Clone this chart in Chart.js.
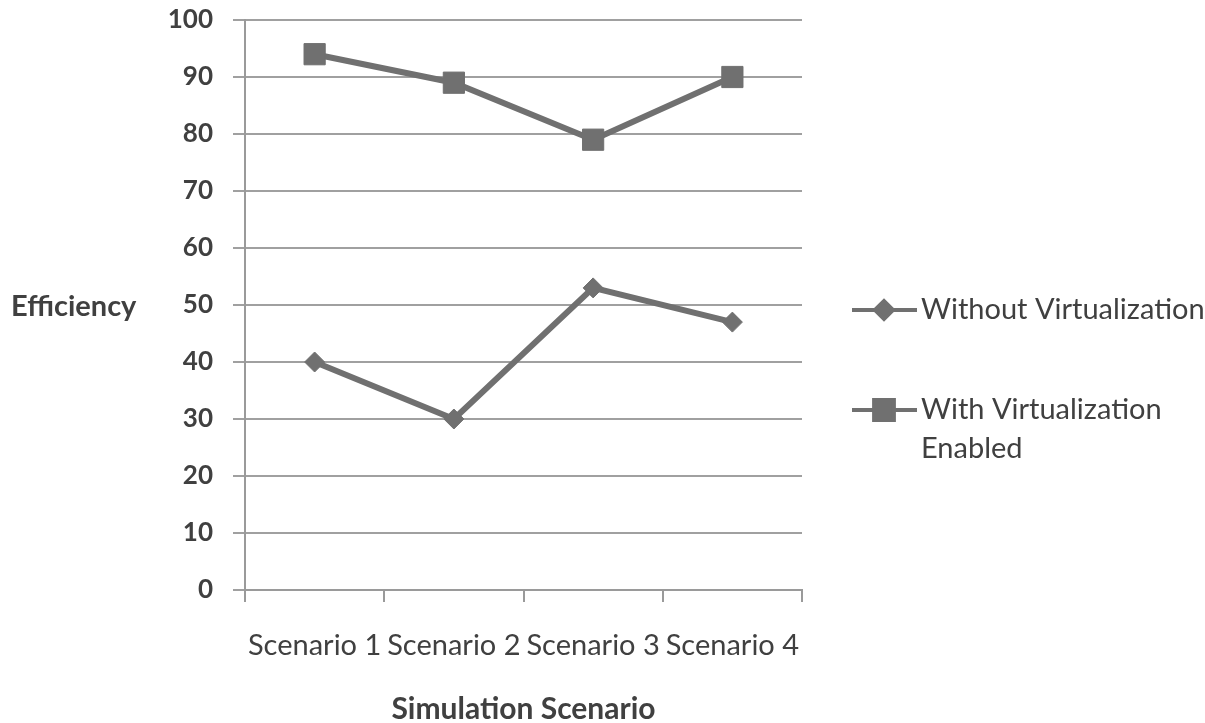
<!DOCTYPE html>
<html>
<head>
<meta charset="utf-8">
<script src="https://cdn.jsdelivr.net/npm/chart.js@4.4.1/dist/chart.umd.min.js"></script>
<style>
  html, body { margin: 0; padding: 0; background: #fff; }
  #wrap { width: 1205px; height: 723px; position: relative; }
</style>
</head>
<body>
<div id="wrap"><canvas id="chart"></canvas></div>
<script>
const categories = ["Scenario 1", "Scenario 2", "Scenario 3", "Scenario 4"];
const withoutVirt = [40, 30, 53, 47];
const withVirt = [94, 89, 79, 90];
const seriesNames = ["Without Virtualization", ["With Virtualization", "Enabled"]];
const yTicks = [0, 10, 20, 30, 40, 50, 60, 70, 80, 90, 100];

const grey = "#707070";
const textColor = "#404040";
const fontFamily = "Lato, 'Open Sans', sans-serif";

// y title drawn horizontally, plus a legend with the wrapped second label
const extras = {
  id: "extras",
  afterDraw(chart) {
    const ctx = chart.ctx;
    ctx.save();
    ctx.fillStyle = textColor;
    ctx.font = "bold 29px " + fontFamily;
    ctx.textAlign = "left";
    ctx.textBaseline = "middle";
    ctx.fillText("Efficiency", 11, 307);

    const items = [
      { y: 310, style: "rectRot", radius: 9, lines: [seriesNames[0]] },
      { y: 410, style: "rect", radius: 14, lines: seriesNames[1] },
    ];
    items.forEach((it) => {
      ctx.strokeStyle = grey;
      ctx.lineWidth = 4;
      ctx.beginPath();
      ctx.moveTo(852, it.y);
      ctx.lineTo(917, it.y);
      ctx.stroke();
      ctx.fillStyle = grey;
      Chart.helpers.drawPoint(ctx, { pointStyle: it.style, radius: it.radius, borderWidth: 1 }, 884, it.y);
      ctx.fillStyle = textColor;
      ctx.font = "29px " + fontFamily;
      it.lines.forEach((t, i) => ctx.fillText(t, 921, it.y + i * 39));
    });
    ctx.restore();
  },
};

new Chart(document.getElementById("chart"), {
  type: "line",
  data: {
    labels: categories,
    datasets: [
      {
        label: "Without Virtualization",
        data: withoutVirt,
        borderColor: grey,
        backgroundColor: grey,
        borderWidth: 6,
        pointStyle: "rectRot",
        pointRadius: 10,
        pointBorderWidth: 1,
      },
      {
        label: "With Virtualization Enabled",
        data: withVirt,
        borderColor: grey,
        backgroundColor: grey,
        borderWidth: 6,
        pointStyle: "rect",
        pointRadius: 15,
        pointBorderWidth: 1,
      },
    ],
  },
  options: {
    responsive: true,
    maintainAspectRatio: false,
    animation: false,
    layout: { padding: { top: 20, right: 403, left: 0, bottom: 0 } },
    plugins: { legend: { display: false }, tooltip: { enabled: false } },
    scales: {
      x: {
        offset: true,
        grid: {
          offset: true,
          drawOnChartArea: false,
          drawTicks: true,
          tickLength: 12,
          color: "#9a9a9a",
          lineWidth: 2,
        },
        border: { color: "#9a9a9a", width: 2 },
        ticks: {
          color: textColor,
          font: { family: fontFamily, size: 29 },
          padding: 26,
          maxRotation: 0,
          autoSkip: false,
        },
        title: {
          display: true,
          text: "Simulation Scenario",
          color: textColor,
          font: { family: fontFamily, size: 30, weight: "bold" },
          padding: { top: 0, bottom: -4 },
        },
        afterFit(scale) {
          scale.height = 133;
          scale.paddingLeft = 0;
          scale.paddingRight = 0;
        },
      },
      y: {
        min: 0,
        max: 100,
        afterBuildTicks(scale) { scale.ticks = yTicks.map((v) => ({ value: v })); },
        grid: { color: "#a0a0a0", lineWidth: 2, tickLength: 12 },
        border: { color: "#9a9a9a", width: 2 },
        ticks: { color: textColor, font: { family: fontFamily, size: 26, weight: "bold" }, padding: 20 },
        afterFit(scale) {
          scale.width = 245;
          scale.paddingTop = 0;
          scale.paddingBottom = 0;
        },
      },
    },
  },
  plugins: [extras],
});
</script>
</body>
</html>
